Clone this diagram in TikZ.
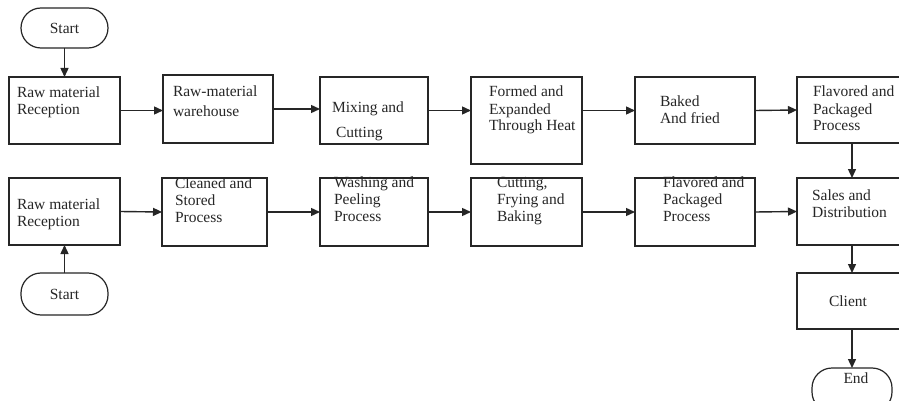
\documentclass[tikz,border=0pt]{standalone}
\usepackage{fontspec}
\setmainfont{Liberation Serif}
\usetikzlibrary{arrows.meta}
\begin{document}
\begin{tikzpicture}[x=1pt,y=-1pt,
  box/.style={draw=black!85,line width=1.4pt,rectangle,inner sep=0pt,outer sep=0pt},
  term/.style={draw=black!85,line width=1.2pt,rectangle,rounded corners=20pt,inner sep=0pt,outer sep=0pt,font=\fontsize{15.5}{17}\selectfont,text=black!85},
  txt/.style={anchor=north west,inner sep=0pt,outer sep=0pt,align=left,font=\fontsize{15.5}{17}\selectfont,text=black!85},
  arr/.style={draw=black!85,line width=1.4pt,-{Triangle[length=9pt,width=8pt]}}]
\useasboundingbox (0,0) rectangle (899,401);
\clip (0,0) rectangle (899,401);
\fill[white] (0,0) rectangle (899,401);
% terminals
\node[term,minimum width=87pt,minimum height=40pt] (s1) at (64.5,28) {Start};
\node[term,minimum width=87pt,minimum height=42pt] (s2) at (64.5,294) {Start};
\node[term,minimum width=80pt,minimum height=44pt] (en) at (852,390) {};
% row 1
\node[box,minimum width=111pt,minimum height=67pt] (b1) at (64.5,110.5) {};
\node[box,minimum width=110pt,minimum height=68pt] (b2) at (218,109) {};
\node[box,minimum width=108pt,minimum height=67pt] (b3) at (374,110.5) {};
\node[box,minimum width=111pt,minimum height=87pt] (b4) at (526.5,120.5) {};
\node[box,minimum width=120pt,minimum height=67pt] (b5) at (695,110.5) {};
\node[box,minimum width=110pt,minimum height=66pt] (b6) at (852,110) {};
% row 2
\node[box,minimum width=111pt,minimum height=67pt] (c1) at (64.5,211.5) {};
\node[box,minimum width=105pt,minimum height=68pt] (c2) at (214.5,212) {};
\node[box,minimum width=108pt,minimum height=68pt] (c3) at (374,212) {};
\node[box,minimum width=111pt,minimum height=68pt] (c4) at (526.5,212) {};
\node[box,minimum width=120pt,minimum height=68pt] (c5) at (695,212) {};
\node[box,minimum width=110pt,minimum height=67pt] (c6) at (852,211.5) {};
\node[box,minimum width=110pt,minimum height=56pt,font=\fontsize{15.5}{17}\selectfont,text=black!85] (cl) at (852,301) {\hspace{-8pt}Client};
% texts
\node[txt] (t1) at (17,86) {\rule{0pt}{11pt}Raw material\\Reception};
\node[txt] (t2) at (173,86) {\rule{0pt}{11pt}Raw-material\\[3pt]warehouse};
\node[txt] (t3) at (332,102) {\rule{0pt}{11pt}Mixing and\\[8pt]\hspace{4pt}Cutting};
\node[txt] (t4) at (489,86) {\rule{0pt}{11pt}Formed and\\Expanded\\Through Heat};
\node[txt] (t5) at (660,96) {\rule{0pt}{11pt}Baked\\And fried};
\node[txt] (t6) at (813,86) {\rule{0pt}{11pt}Flavored and\\Packaged\\Process};
\node[txt] (u1) at (17,198) {\rule{0pt}{11pt}Raw material\\Reception};
\node[txt] (u2) at (175,177) {\rule{0pt}{11pt}Cleaned and\\Stored\\Process};
\node[txt] (u3) at (334,176) {\rule{0pt}{11pt}Washing and\\Peeling\\Process};
\node[txt] (u4) at (497,176) {\rule{0pt}{11pt}Cutting,\\Frying and\\Baking};
\node[txt] (u5) at (663,176) {\rule{0pt}{11pt}Flavored and\\Packaged\\Process};
\node[txt] (u6) at (812,189) {\rule{0pt}{11pt}Sales and\\Distribution};
\node[txt,anchor=base] (te) at (856,383) {End};
% connectors
\draw[arr] (s1.south) -- (b1.north);
\draw[arr] (b1.east) -- (b1.east -| b2.west);
\draw[arr] (b2.east) -- (b2.east -| b3.west);
\draw[arr] (b3.east) -- (b3.east -| b4.west);
\draw[arr] (b4.east |- b5.west) -- (b5.west);
\draw[arr] (b5.east) -- (b6.west);
\draw[arr] (b6.south) -- (c6.north);
\draw[arr] (s2.north) -- (c1.south);
\draw[arr] (c1.east) -- (c2.west);
\draw[arr] (c2.east) -- (c2.east -| c3.west);
\draw[arr] (c3.east) -- (c4.west);
\draw[arr] (c4.east) -- (c5.west);
\draw[arr] (c5.east) -- (c6.west);
\draw[arr] (c6.south) -- (cl.north);
\draw[arr] (cl.south) -- (en.north);
\end{tikzpicture}
\end{document}
